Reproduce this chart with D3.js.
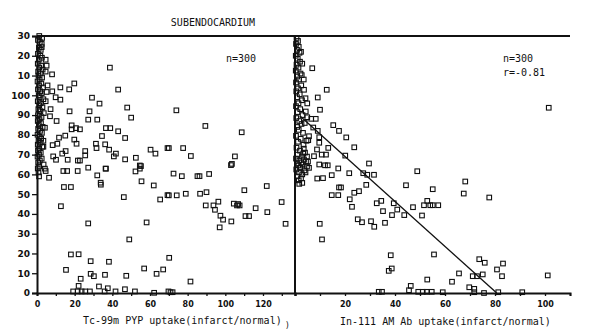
<!DOCTYPE html>
<html>
<head>
<meta charset="utf-8">
<script src="https://cdn.jsdelivr.net/npm/d3@7"></script>
<style>
  body { margin: 0; background: #fff; }
  .tick text { font-family: "DejaVu Sans", sans-serif; font-weight: bold; fill: #111; }
  .mono { font-family: "DejaVu Sans Mono", monospace; font-size: 10px; fill: #111; }
</style>
</head>
<body>
<div id="chart"></div>
<script>
// y ticks (the 110-130 labels are cut to "10","20","30" in the original)
const yTicks = [0, 10, 20, 30, 40, 50, 60, 70, 80, 90, 100, 110, 120, 130];
const yTickLabels = ["0", "10", "20", "30", "40", "50", "60", "70", "80", "90", "100", "10", "20", "30"];

const pypTicks = [0, 10, 20, 30, 40, 50, 60, 70, 80, 90, 100, 110, 120, 130];
const pypTickLabels = ["0", "", "20", "", "40", "", "60", "", "80", "", "100", "", "120", ""];

const abTicks = [0, 10, 20, 30, 40, 50, 60, 70, 80, 90, 100, 110];
const abTickLabels = ["", "", "20", "", "40", "", "60", "", "80", "", "100", ""];

// Tc-99m PYP uptake vs y, scattered points
const pypPoints = [
  [38.7,114],[19.8,106],[17.1,103],[12.4,104],[8,110.6],[43.1,102.9],[29.2,98.8],[33.2,95.8],[9.9,99],[12.4,97.8],
  [8.1,102],[17.3,91.9],[27.9,91.9],[47.9,93.8],[27.2,87.7],[32,87.7],[50,88.7],[10.4,87],[6.9,89.4],[18.4,84.8],
  [18.4,82.8],[20.7,83.4],[22.8,82.8],[36.6,83.4],[38.9,83.4],[43.1,81.8],[34.5,79.4],[46.8,78.4],[15,79.6],[11.7,78.6],
  [19.8,77.6],[21,75.5],[10.8,75.5],[8.3,74.8],[31.3,75.5],[36.2,75.2],[38.3,72.5],[31.6,73.3],[41.9,70.5],[40.8,69.1],
  [25.6,71.8],[25.6,69.6],[15.2,71.8],[13.4,70.5],[52.5,68.4],[46.8,67.6],[8.6,69.1],[60.3,72.5],[62.9,70.5],[69.3,73.3],
  [16.3,67.4],[10.1,67.4],[21.7,67],[22.8,67],[54.6,64.5],[36.6,62.9],[27.2,63.4],[4.2,62.9],
  [74,92.4],[89.4,84.5],[108.7,81.3],[70,73.3],[77.6,73.3],[81.7,69.3],[105.1,69.1],[103,64.7],[103.5,65.3],
  [1.1,59],[4.6,61.7],[6.4,58.3],[14,61.7],[16,61.7],[21.6,61.7],[14.3,53.6],[18,53.6],[12.7,43.9],
  [32,59.5],[33.8,55.8],[33.9,54.8],[36.4,62.9],[46.1,48.5],[49,27.1],[52.3,61.5],[54.6,62.9],[55.2,64.2],[55.5,56.5],
  [58.2,35.7],[62,54.4],[65.4,47.3],[69.3,49.5],[27.2,35.2],
  [18,19.5],[22.1,19.6],[15.4,11.7],[28.5,16.1],[38.2,15.8],[28.5,9.7],[30.2,8.5],[36.1,9.2],[47.4,8.7],[23.2,7.2],
  [22.1,3.6],[56.9,12.4],[63.5,9.7],[67,11.9],[70.2,17.8],[19.2,0.8],[21.6,0.8],[23.7,0.8],[25.6,0.8],[28.1,0.8],
  [32.9,3.3],[37.6,2.4],[35.9,0.8],[41.7,0.8],[46.7,1.9],[52,0.8],[62.2,0.1],[69.8,0.8],[70.9,0.4],[72,0.4],[81.5,5.8],
  [72.5,60.4],[76.9,59.1],[85.2,59.1],[86.3,59.1],[91.4,60.2],[70,49.4],[74.2,49.4],[79,50.2],[86.6,50.2],[90,51],
  [110.1,52],[122,54.1],[89.6,44.3],[93.7,44.3],[94.5,42.1],[96.3,46.2],[97.4,39.1],[98.8,37.1],[97,33.2],[103.2,36.2],
  [104.5,45.2],[106.2,44.3],[107.6,44.3],[106.8,45],[110.7,38.9],[112.6,38.9],[116.1,42.9],[122.3,40.9],[129.9,46],[132,35]
];

// dense column of PYP points close to zero uptake
const pypNearZero = [
  [0.5,128],[1.5,127],[2.5,126],[1,124],[2,123],[2.5,124.4],[0.5,121],[1.8,120],[2.6,119],[1,118],[4.6,118],
  [0.4,116],[2.2,115],[5.1,115],[1.2,114],[3,113],[0.6,112],[4.6,112],[1.9,111],[0.8,110],[2.7,109],[1.4,108],
  [0.3,107],[2.3,106],[5.6,105],[1.1,105],[3.2,104],[0.5,103],[1.7,102],[5.1,101.7],[2.5,101],[0.9,100],[1.5,99],
  [3.4,98],[4.6,97],[0.4,97],[2,96],[1.2,95],[2.9,94],[7.2,93],[0.7,93],[1.8,92],[3.6,91],[0.5,90],[2.4,89],
  [1.3,88],[0.4,87],[2.1,86],[1,85],[3,84],[4.2,83.6],[0.6,83],[1.6,82],[2.6,81],[0.3,80],[1.4,79],[2.2,78],
  [3.4,77],[0.8,77],[1.9,76],[0.4,75],[3.4,74],[2.8,74],[1.2,73],[0.5,72],[2,71],[1.1,70],[0.3,69],[2.5,68],
  [1.5,67],[0.6,66],[3.5,65],[1.2,64],[0.4,63],[0.8,61],[2.7,129],[1.2,130]
];

// In-111 AM Ab uptake vs y, scattered points
const abPoints = [
  [6.9,113.7],[12.7,102.8],[9.1,98.9],[10,92.7],[4.9,95.9],[3.6,102.8],[2.7,110.2],[4.3,91.8],[4.9,88.9],[6.5,88.1],
  [8.3,88.1],[7.3,83.7],[9.1,82],[15.3,84.9],[17.6,82],[20.5,78.7],[23.7,73.7],[20.1,69.5],[29.6,65.5],[5.6,79.3],
  [5.3,77.3],[9.7,78.8],[9.7,76],[13.3,73.4],[8.8,72.6],[10.7,70],[12.4,70],[7.6,69.2],[9.7,65],[12,64.6],
  [13.1,64.6],[17.3,63],[2,63.3],[5.6,63.3],[101.5,93.7],
  [48.9,61.6],[21.7,60.6],[27.3,60.6],[28.9,59.8],[31.6,59.8],[14.7,59.6],[8.9,57.9],[11.2,58.1],[1.7,55.2],[2.9,55.7],
  [17.6,53.4],[18.4,53.4],[14.7,49.5],[17.3,49.5],[28.5,54.7],[23.7,50.7],[25.6,51.5],[21.9,47.4],[22.8,43.6],[32.7,45.4],
  [34.5,46.6],[35.2,41.4],[39.5,45.4],[40.9,42.2],[38.8,39.4],[43.7,39.4],[44.4,54.5],[47.2,43.4],[50.8,39.2],[51.6,44.4],
  [52.9,46.6],[54.1,44.4],[55.1,44.4],[57.3,44.4],[55.1,52.5],[25.1,37.3],[26.8,35.8],[30.4,36.3],[31.7,33.5],[36,35.5],
  [9.9,35],[10.8,27.1],[38.3,19.1],[37.5,11.2],[38.7,12.4],[55.6,19.5],[52.9,6.8],[46.3,3.6],[45.6,1.4],[33.5,0.6],
  [34.8,0.6],[49.3,0.6],[51.1,0.6],[52.7,0.6],[54.7,0.6],
  [68.1,56.4],[67.5,50.3],[77.7,48.3],[73.7,17.1],[75.9,15.3],[83.2,14.9],[80.8,11.9],[65.6,9.9],[71.1,8.5],[72.8,8.5],
  [75.1,9.4],[82.8,8.5],[101.1,8.9],[62.8,5.7],[69.7,2.9],[71.7,2.1],[71.7,0.4],[75.6,0],[81.3,0.4],[90.9,0.4],[59.1,0.4]
];

// dense column of Ab points close to zero uptake
const abNearZero = [
  [0.6,129],[1.2,127.5],[0.4,126],[1.5,124.5],[0.8,123],[1.8,121.5],[0.3,120],[1.1,118.5],[2,117],[0.6,115.5],
  [1.4,114],[0.3,112.5],[2.2,111],[0.9,109.5],[1.6,108],[0.4,106.5],[2.5,105],[1.2,103.5],[0.5,102],[1.9,100.5],
  [0.8,99],[2.8,97.5],[1.4,96],[0.4,94.5],[2.1,93],[1,91.5],[3,90],[0.5,88.5],[1.7,87],[2.6,85.5],
  [0.9,84],[1.5,82.5],[3.2,81],[0.4,79.5],[2.3,78],[1.2,76.5],[3.4,75],[0.6,73.5],[2,72],[4,71],
  [1.1,70],[2.8,69],[0.4,68],[3.6,67.5],[1.7,67],[4.4,66.5],[2.5,66],[0.8,65.5],[3.1,65],[1.4,64.5],
  [4.8,64],[2.2,63.5],[0.5,62.5],[3.8,62],[1.6,61],[2.9,60],[0.9,59],[2.4,58],[1.5,57],[4.2,61],
  [3.5,73],[4.6,77],[3.9,86],[4.2,98.5],[3.5,108],[2.9,116],[2.4,122],[4.8,69],[5.2,66.5],[3.3,70.5]
];

// regression line endpoints (In-111 panel)
const fitX = [2, 80.7];
const fitY = [89.5, 0];

function drawSquares(svg, data, xScale, yScale) {
    svg.append("g")
        .selectAll("rect")
        .data(data)
        .enter()
        .append("rect")
            .attr("x", function(d) { return xScale(d[0]) - 2.3; })
            .attr("y", function(d) { return yScale(d[1]) - 2.3; })
            .attr("width", 4.6)
            .attr("height", 4.6)
            .attr("fill", "none")
            .attr("stroke", "#111")
            .attr("stroke-width", 1.1);
}

function chart() {
    const width = 592;
    const height = 334;

    const svg = d3.select("#chart")
        .append("svg")
        .attr("width", width)
        .attr("height", height);

    // Scales
    const yScale = d3.scaleLinear().domain([0, 130]).range([293, 36]);
    const xPyp = d3.scaleLinear().domain([0, 137]).range([37, 295]);
    const xAb = d3.scaleLinear().domain([0, 110]).range([295, 570]);

    // Axes
    const yAxis = svg.append("g")
        .attr("transform", "translate(37,0)")
        .call(d3.axisLeft(yScale)
            .tickValues(yTicks)
            .tickSize(5)
            .tickPadding(2)
            .tickFormat(function(d, i) { return yTickLabels[i]; }));
    yAxis.selectAll("text").style("font-size", "9px");

    const xAxisPyp = svg.append("g")
        .attr("transform", "translate(0,293)")
        .call(d3.axisBottom(xPyp)
            .tickValues(pypTicks)
            .tickSize(3)
            .tickPadding(5)
            .tickFormat(function(d, i) { return pypTickLabels[i]; }));

    const xAxisAb = svg.append("g")
        .attr("transform", "translate(0,293)")
        .call(d3.axisBottom(xAb)
            .tickValues(abTicks)
            .tickSize(3)
            .tickPadding(5)
            .tickFormat(function(d, i) { return abTickLabels[i]; }));

    [yAxis, xAxisPyp, xAxisAb].forEach(function(a) {
        a.select(".domain").attr("stroke", "#111").attr("stroke-width", 2);
        a.selectAll(".tick line").attr("stroke", "#111").attr("stroke-width", 1.3);
    });
    xAxisPyp.selectAll("text").style("font-size", "8px");
    xAxisAb.selectAll("text").style("font-size", "8px");

    // top border and divider
    svg.append("line")
        .attr("x1", xPyp(0)).attr("x2", xAb(110))
        .attr("y1", yScale(130)).attr("y2", yScale(130))
        .attr("stroke", "#111").attr("stroke-width", 1.8);

    svg.append("line")
        .attr("x1", xAb(0)).attr("x2", xAb(0))
        .attr("y1", yScale(130)).attr("y2", yScale(0))
        .attr("stroke", "#111").attr("stroke-width", 2);

    // Points
    drawSquares(svg, pypPoints, xPyp, yScale);
    drawSquares(svg, pypNearZero, xPyp, yScale);
    drawSquares(svg, abPoints, xAb, yScale);
    drawSquares(svg, abNearZero, xAb, yScale);

    // regression line
    svg.append("line")
        .attr("x1", xAb(fitX[0])).attr("y1", yScale(fitY[0]))
        .attr("x2", xAb(fitX[1])).attr("y2", yScale(fitY[1]))
        .attr("stroke", "#111")
        .attr("stroke-width", 1.3);

    // Texts
    svg.append("text").attr("class", "mono")
        .attr("x", 213).attr("y", 26)
        .attr("text-anchor", "middle")
        .text("SUBENDOCARDIUM");

    svg.append("text").attr("class", "mono")
        .attr("x", 226).attr("y", 62)
        .text("n=300");

    svg.append("text").attr("class", "mono")
        .attr("x", 503).attr("y", 62)
        .text("n=300");

    svg.append("text").attr("class", "mono")
        .attr("x", 503).attr("y", 76)
        .text("r=-0.81");

    svg.append("text").attr("class", "mono")
        .attr("x", 83).attr("y", 324)
        .text("Tc-99m PYP uptake(infarct/normal)");

    svg.append("text").attr("class", "mono")
        .attr("x", 285).attr("y", 328)
        .style("font-size", "8px")
        .text(")");

    svg.append("text").attr("class", "mono")
        .attr("x", 340).attr("y", 325)
        .text("In-111 AM Ab uptake(infarct/normal)");
}

chart();
</script>
</body>
</html>
